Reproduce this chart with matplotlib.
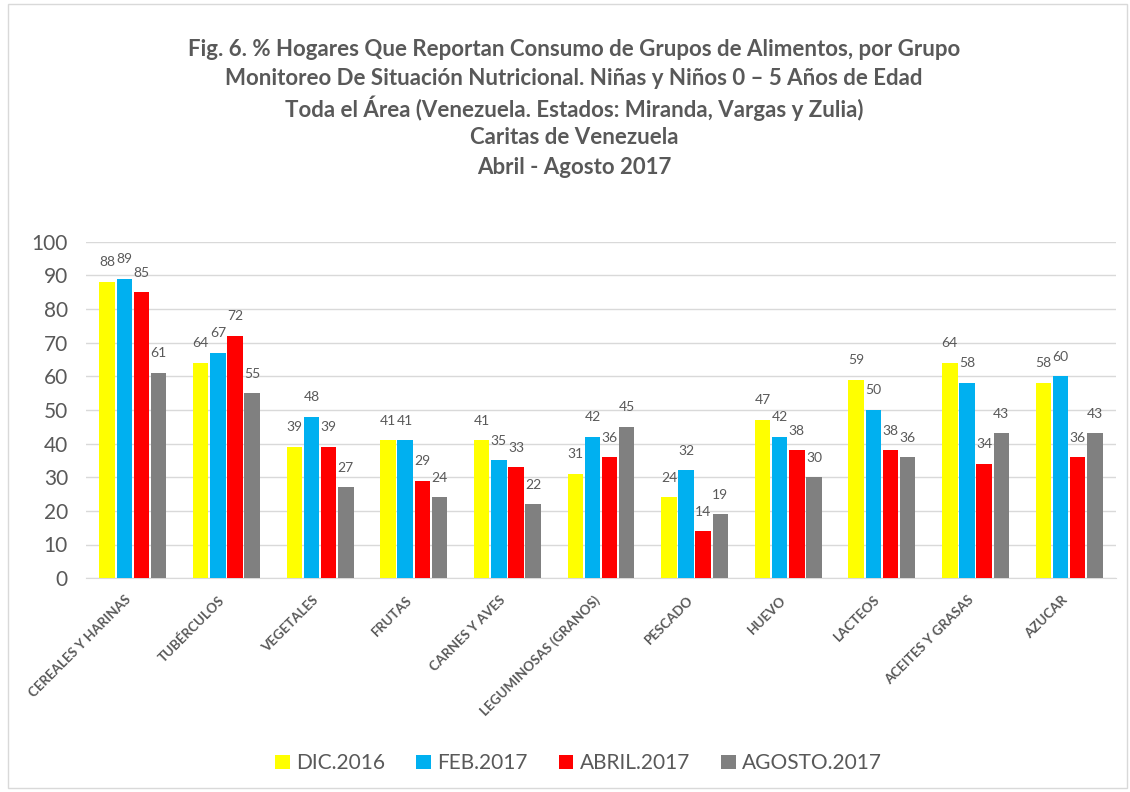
import matplotlib.pyplot as plt
import matplotlib.transforms as mtransforms
import numpy as np
from matplotlib.patches import Rectangle

plt.rcParams['font.family'] = ['Lato', 'DejaVu Sans']

grupos = ['CEREALES Y HARINAS', 'TUBÉRCULOS', 'VEGETALES', 'FRUTAS', 'CARNES Y AVES',
          'LEGUMINOSAS (GRANOS)', 'PESCADO', 'HUEVO', 'LACTEOS', 'ACEITES Y GRASAS', 'AZUCAR']
dic_2016 = [88, 64, 39, 41, 41, 31, 24, 47, 59, 64, 58]
feb_2017 = [89, 67, 48, 41, 35, 42, 32, 42, 50, 58, 60]
abril_2017 = [85, 72, 39, 29, 33, 36, 14, 38, 38, 34, 36]
agosto_2017 = [61, 55, 27, 24, 22, 45, 19, 30, 36, 43, 43]

series = [('DIC.2016', dic_2016, '#FFFF00'),
          ('FEB.2017', feb_2017, '#00B0F0'),
          ('ABRIL.2017', abril_2017, '#FF0000'),
          ('AGOSTO.2017', agosto_2017, '#808080')]

titulo = ['Fig. 6. % Hogares Que Reportan Consumo de Grupos de Alimentos, por Grupo',
          'Monitoreo De Situación Nutricional. Niñas y Niños 0 – 5 Años de Edad',
          'Toda el Área (Venezuela. Estados: Miranda, Vargas y Zulia)',
          'Caritas de Venezuela',
          'Abril - Agosto 2017']

gris = '#595959'
fig = plt.figure(figsize=(11.3, 7.92), dpi=100)
ax = fig.add_axes([86 / 1130, 0.27, 1030 / 1130, 0.425])

x = np.arange(len(grupos))
w = 0.165
paso = 0.183
for i, (nombre, vals, color) in enumerate(series):
    pos = x + (i - 1.5) * paso
    bars = ax.bar(pos, vals, w, color=color, label=nombre, zorder=3)
    for b, v in zip(bars, vals):
        ax.text(b.get_x() + b.get_width() / 2, v + 4, str(v), ha='center', va='bottom',
                fontsize=10, color=gris)

ax.set_ylim(0, 100)
ax.set_xlim(-0.5, len(grupos) - 0.5)
ax.set_yticks(range(0, 101, 10))
ax.tick_params(axis='y', labelsize=15, colors=gris, length=0, pad=13)
ax.tick_params(axis='x', length=0, pad=11)
ax.set_xticks(x)
ax.set_xticklabels(grupos, rotation=45, ha='right', rotation_mode='anchor',
                   fontsize=9.6, fontweight='bold', color=gris)
desplaza = mtransforms.ScaledTranslation(-0.08, 0, fig.dpi_scale_trans)
for lbl in ax.get_xticklabels():
    lbl.set_transform(lbl.get_transform() + desplaza)
ax.grid(axis='y', color='#D9D9D9', linewidth=1, zorder=0)
for s in ['top', 'right', 'left']:
    ax.spines[s].set_visible(False)
ax.spines['bottom'].set_color('#D9D9D9')

# lineas del titulo con separacion uniforme
for k, linea in enumerate(titulo):
    yc = 1 - (47 + k * 29.5) / 792
    fig.text(0.508, yc, linea, ha='center', va='center_baseline', fontsize=16,
             fontweight='bold', color=gris)

fig.legend(loc='lower center', bbox_to_anchor=(0.512, 0.0), ncol=4, frameon=False,
           fontsize=15, handlelength=0.7, handleheight=0.7, columnspacing=1.5,
           handletextpad=0.3, labelcolor=gris)

fig.patches.append(Rectangle((0.007, 0.005), 0.99, 0.99, transform=fig.transFigure,
                             fill=False, edgecolor='#D9D9D9', linewidth=1))

fig.savefig('out.png', dpi=100)
